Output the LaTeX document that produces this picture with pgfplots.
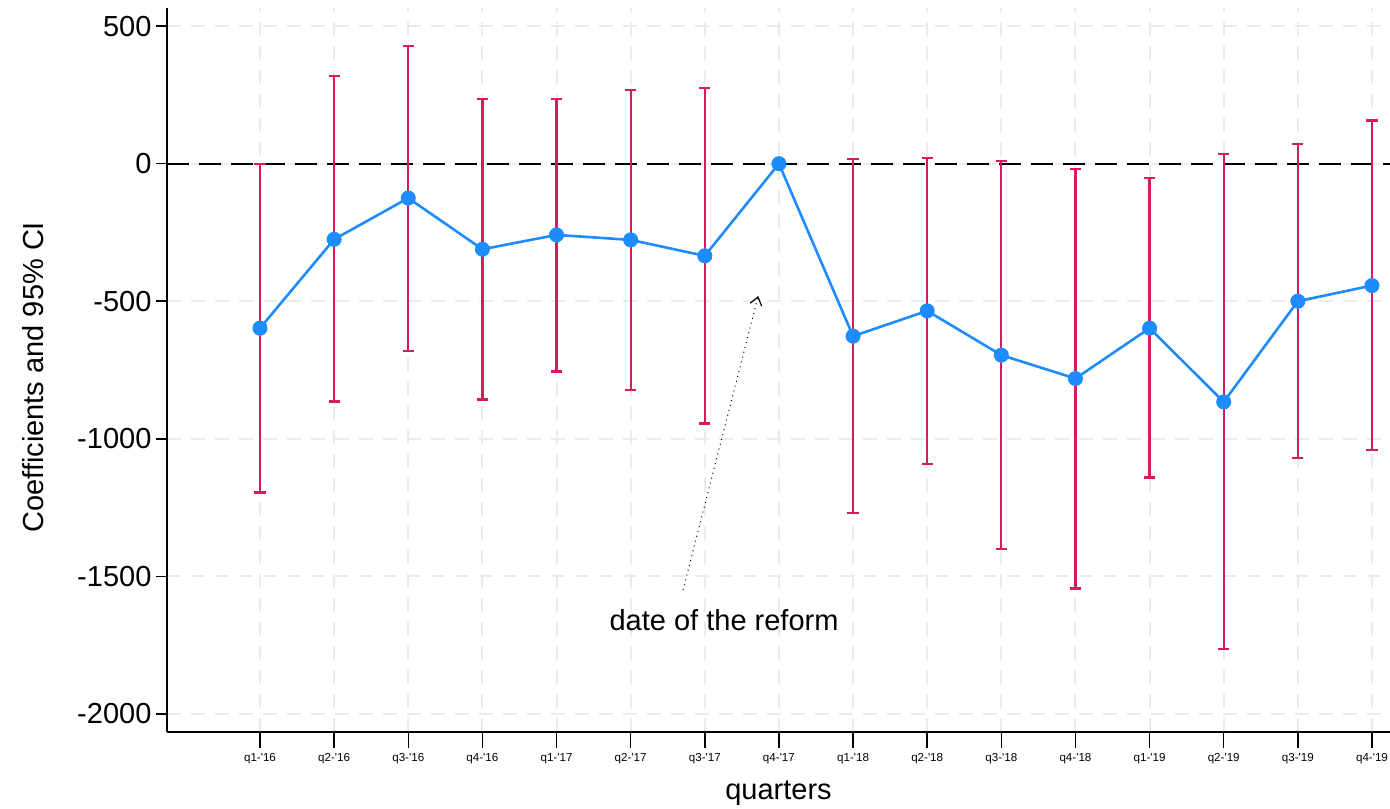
\documentclass[border=0pt]{standalone}
\usepackage{fontspec}
\setmainfont{Liberation Sans}
\usepackage{pgfplots}
\pgfplotsset{compat=1.18}
\usepackage{pgfplotstable}
\usetikzlibrary{arrows.meta}
\definecolor{ciRed}{RGB}{215,25,95}
\definecolor{lineBlue}{RGB}{30,140,255}
\definecolor{gridGray}{RGB}{235,235,235}

\pgfplotstableread{
x coef lo hi
0 -598 -1195 0
1 -275 -865 320
2 -125 -680 429
3 -311 -857 235
4 -259 -756 236
5 -277 -823 268
6 -335 -944 275
7 0 0 0
8 -627 -1269 16
9 -535 -1091 21
10 -696 -1402 11
11 -781 -1544 -20
12 -598 -1141 -53
13 -866 -1764 34
14 -500 -1069 71
15 -443 -1041 157
}\datatable

\begin{document}
\begin{tikzpicture}
\begin{axis}[
  scale only axis,
  width=611.5pt, height=362pt,
  xmin=-1.2545, xmax=15.243,
  ymin=-2066, ymax=566,
  axis x line*=bottom, axis y line*=left,
  axis line style={black, line width=0.75pt},
  tick align=outside,
  tick style={black, line width=0.75pt},
  xtick style={/pgfplots/major tick length=8pt},
  ytick style={/pgfplots/major tick length=5.3pt},
  xtick={0,...,15},
  xticklabels={q1-\textquotesingle16,q2-\textquotesingle16,q3-\textquotesingle16,q4-\textquotesingle16,
               q1-\textquotesingle17,q2-\textquotesingle17,q3-\textquotesingle17,q4-\textquotesingle17,
               q1-\textquotesingle18,q2-\textquotesingle18,q3-\textquotesingle18,q4-\textquotesingle18,
               q1-\textquotesingle19,q2-\textquotesingle19,q3-\textquotesingle19,q4-\textquotesingle19},
  xticklabel style={font=\fontsize{5.8}{7}\selectfont, yshift=-3pt},
  ytick={-2000,-1500,-1000,-500,0,500},
  /pgf/number format/assume math mode=true,
  /pgf/number format/1000 sep={},
  yticklabel style={font=\fontsize{14.5}{17}\selectfont},
  grid=major,
  major grid style={gridGray, line width=1pt, dash pattern=on 7pt off 5pt},
  xlabel={quarters},
  ylabel={Coefficients and 95\% CI},
  xlabel style={font=\fontsize{14.5}{17}\selectfont, at={(axis description cs:0.5,-0.0843)}, anchor=center},
  ylabel style={font=\fontsize{14.5}{17}\selectfont, at={(axis description cs:-0.1096,0.49)}, anchor=center},
]
% zero reference line
\addplot[black, line width=1pt, dash pattern=on 11pt off 5pt, forget plot]
  coordinates {(-1.2545,0) (15.243,0)};
% confidence intervals
\addplot[only marks, mark=none, forget plot, skip coords between index={7}{8},
  error bars/.cd, y dir=both, y explicit,
  error bar style={draw=ciRed, line width=1.15pt, solid},
  error mark options={draw=ciRed, line width=1.15pt, mark size=2.8pt, rotate=90}]
  table[x=x, y=coef,
        y error plus expr=\thisrow{hi}-\thisrow{coef},
        y error minus expr=\thisrow{coef}-\thisrow{lo}] {\datatable};
% coefficients
\addplot[lineBlue, line width=1.3pt, mark=*, mark size=3.1pt,
  mark options={fill=lineBlue, draw=lineBlue}]
  table[x=x, y=coef] {\datatable};
% annotation
\draw[black, line width=0.5pt, dotted, -{Straight Barb[length=4pt, width=6pt, line width=0.6pt]}]
  (axis cs:5.706,-1550) -- (axis cs:6.72,-481);
\node[font=\fontsize{14.5}{17}\selectfont, anchor=center] at (axis cs:6.26,-1659) {date of the reform};
\end{axis}
\pgfresetboundingbox
\path ([shift={(-83.5pt,-38pt)}]current axis.south west) rectangle ([shift={(0pt,4pt)}]current axis.north east);
\end{tikzpicture}
\end{document}
